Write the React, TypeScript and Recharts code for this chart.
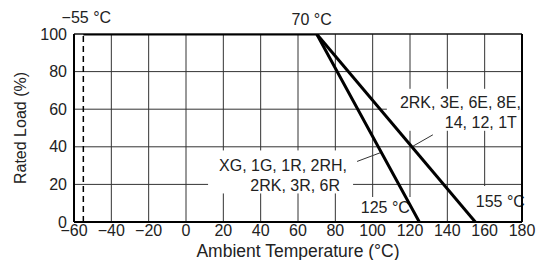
import React from 'react';
import { LineChart, Line, XAxis, YAxis, CartesianGrid, ReferenceLine, ReferenceDot, Label } from 'recharts';

const tempTicks = [-60, -40, -20, 0, 20, 40, 60, 80, 100, 120, 140, 160, 180];
const loadTicks = [0, 20, 40, 60, 80, 100];

// derating curve for the 125 °C types
const tempShort = [-55, 70, 125];
const loadShort = [100, 100, 0];
// derating curve for the 155 °C types
const tempLong = [70, 155];
const loadLong = [100, 0];

const groupShort = ['XG, 1G, 1R, 2RH,', '2RK, 3R, 6R'];
const groupLong = ['2RK, 3E, 6E, 8E,', '14, 12, 1T'];

const shortData = tempShort.map((t, i) => ({ t, load: loadShort[i] }));
const longData = tempLong.map((t, i) => ({ t, load: loadLong[i] }));

const TEXT = '#222';
const fmt = (v: number) => String(v).replace('-', '\u2212');

type Note = {
  lines: string[];
  anchor: 'start' | 'middle' | 'end';
  tx: number[];
  ty: number;
  box?: [number, number, number, number];
  leader?: [number, number];
};

function noteShape(n: Note) {
  return (p: any) => {
    const { cx, cy } = p;
    return (
      <g>
        {n.box && (
          <rect x={cx + n.box[0]} y={cy + n.box[1]} width={n.box[2]} height={n.box[3]} fill="#fff" />
        )}
        {n.leader && (
          <line x1={cx} y1={cy} x2={cx + n.leader[0]} y2={cy + n.leader[1]} stroke="#333" strokeWidth={1} />
        )}
        {n.lines.map((s, i) => (
          <text key={i} x={cx + n.tx[i]} y={cy + n.ty + i * 20} textAnchor={n.anchor} fontSize={16} fill={TEXT}>
            {s}
          </text>
        ))}
      </g>
    );
  };
}

export default function App() {
  return (
    <div style={{ position: 'absolute', left: 0, top: 0, fontFamily: "'Liberation Sans', Arial, sans-serif" }}>
      <LineChart width={542} height={260} margin={{ top: 34, right: 20, left: 0, bottom: 0 }}>
        <CartesianGrid stroke="#333" strokeWidth={1} />
        <XAxis
          type="number"
          dataKey="t"
          domain={[-60, 180]}
          ticks={tempTicks}
          tickFormatter={fmt}
          height={38}
          tickLine={false}
          tickSize={0}
          tickMargin={3}
          axisLine={{ stroke: '#000', strokeWidth: 2 }}
          tick={{ fontSize: 16, fill: TEXT }}
          allowDataOverflow
        >
          <Label
            content={(p: any) => (
              <text x={p.viewBox.x + p.viewBox.width / 2} y={p.viewBox.y + 35} textAnchor="middle" fontSize={17.5} fill={TEXT}>
                Ambient Temperature (°C)
              </text>
            )}
          />
        </XAxis>
        <YAxis
          type="number"
          domain={[0, 100]}
          ticks={loadTicks}
          width={74}
          tickLine={false}
          tickSize={0}
          tickMargin={7}
          axisLine={{ stroke: '#000', strokeWidth: 2 }}
          tick={{ fontSize: 16, fill: TEXT }}
          allowDataOverflow
        >
          <Label
            content={(p: any) => {
              const x = p.viewBox.x + 26;
              const y = p.viewBox.y + p.viewBox.height / 2;
              return (
                <text x={x} y={y} transform={`rotate(-90 ${x} ${y})`} textAnchor="middle" fontSize={16} fill={TEXT}>
                  Rated Load (%)
                </text>
              );
            }}
          />
        </YAxis>
        <ReferenceLine x={180} stroke="#000" strokeWidth={2} />
        <ReferenceLine y={100} stroke="#000" strokeWidth={1} />
        <ReferenceLine x={-55} stroke="#000" strokeWidth={1.5} strokeDasharray="6 4" />

        <ReferenceDot x={-55} y={100} r={0} zIndex={50} shape={noteShape({ lines: ['\u221255 °C'], anchor: 'middle', tx: [3], ty: -11 })} />
        <ReferenceDot x={70} y={100} r={0} zIndex={50} shape={noteShape({ lines: ['70 °C'], anchor: 'middle', tx: [-5], ty: -9 })} />
        <ReferenceDot
          x={125}
          y={0}
          r={0}
          zIndex={50}
          shape={noteShape({ lines: ['125 °C'], anchor: 'middle', tx: [-34], ty: -9, box: [-61, -25, 55, 24] })}
        />
        <ReferenceDot
          x={155}
          y={0}
          r={0}
          zIndex={50}
          shape={noteShape({ lines: ['155 °C'], anchor: 'middle', tx: [25], ty: -15, box: [-5, -36, 61, 35] })}
        />
        <ReferenceDot
          x={121}
          y={40}
          r={0}
          zIndex={50}
          shape={noteShape({
            lines: groupLong,
            anchor: 'end',
            tx: [109, 105],
            ty: -39,
            box: [-25, -58, 134, 42],
            leader: [21, -12],
          })}
        />
        <ReferenceDot
          x={104.5}
          y={37}
          r={0}
          zIndex={50}
          shape={noteShape({
            lines: groupShort,
            anchor: 'end',
            tx: [-34, -41],
            ty: 19,
            box: [-173, -2, 145, 43],
            leader: [-24, 9],
          })}
        />

        <Line data={shortData} dataKey="load" stroke="#000" strokeWidth={3} dot={false} isAnimationActive={false} zIndex={1500} />
        <Line data={longData} dataKey="load" stroke="#000" strokeWidth={3} dot={false} isAnimationActive={false} zIndex={1500} />
      </LineChart>
    </div>
  );
}
